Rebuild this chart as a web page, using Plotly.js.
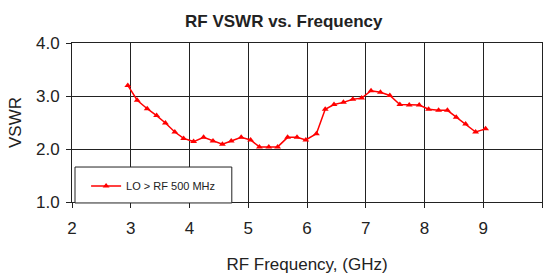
<!DOCTYPE html>
<html>
<head>
<meta charset="utf-8">
<script src="https://cdn.plot.ly/plotly-3.0.1.min.js"></script>
<style>html,body{margin:0;padding:0;background:#fff;}#chart{width:551px;height:277px;}</style>
</head>
<body>
<div id="chart"></div>
<script>
// RF frequency (GHz)
const freqGHz = [2.95, 3.11, 3.28, 3.44, 3.59, 3.75, 3.90, 4.07, 4.24, 4.40,
                 4.56, 4.71, 4.88, 5.04, 5.19, 5.35, 5.50, 5.67, 5.83, 5.98,
                 6.16, 6.31, 6.46, 6.62, 6.78, 6.93, 7.09, 7.25, 7.41, 7.58,
                 7.74, 7.91, 8.07, 8.24, 8.39, 8.54, 8.70, 8.87, 9.04];
// VSWR, LO > RF 500 MHz
const vswr = [3.20, 2.92, 2.76, 2.63, 2.49, 2.32, 2.20, 2.14, 2.22, 2.15,
              2.09, 2.15, 2.22, 2.17, 2.04, 2.04, 2.04, 2.22, 2.22, 2.17,
              2.29, 2.75, 2.84, 2.88, 2.94, 2.96, 3.10, 3.07, 3.01, 2.84,
              2.83, 2.83, 2.75, 2.73, 2.73, 2.60, 2.47, 2.32, 2.38];
const seriesName = 'LO > RF 500 MHz';
const chartTitle = 'RF VSWR vs. Frequency';
const xTitle = 'RF Frequency, (GHz)';
const yTitle = 'VSWR';

const font = 'Liberation Sans, Arial, sans-serif';
const ink = '#222';

Plotly.newPlot('chart', [{
  x: freqGHz, y: vswr, name: seriesName, type: 'scatter', mode: 'lines+markers',
  line: {color: '#ff0000', width: 1.5},
  marker: {symbol: 'triangle-up', size: 6, color: '#ff0000'}
}], {
  width: 551, height: 277,
  margin: {l: 72, r: 9, t: 43, b: 75},
  paper_bgcolor: '#fff', plot_bgcolor: '#fff',
  font: {family: font, color: ink},
  title: {text: '<b>' + chartTitle + '</b>', font: {size: 17, family: font, color: ink},
          xref: 'container', x: 0.515, xanchor: 'center', yref: 'container', y: 0.925, yanchor: 'middle'},
  xaxis: {range: [2, 10], dtick: 1, tick0: 2, showgrid: true, gridcolor: ink, gridwidth: 1,
          showline: true, linecolor: ink, linewidth: 1, mirror: true, zeroline: false,
          ticks: 'outside', ticklen: 5, tickcolor: ink, tickfont: {size: 17, color: ink},
          ticklabelstandoff: 6,
          title: {text: xTitle, font: {size: 17, color: ink}, standoff: 20}, automargin: false},
  yaxis: {range: [1, 4], dtick: 1, tick0: 1, tickformat: '.1f', showgrid: true, gridcolor: ink, gridwidth: 1,
          showline: true, linecolor: ink, linewidth: 1, mirror: true, zeroline: false,
          ticks: 'outside', ticklen: 5, tickcolor: ink, tickfont: {size: 17, color: ink},
          ticklabelstandoff: 3,
          title: {text: yTitle, font: {size: 17, color: ink}, standoff: 10}, automargin: false},
  showlegend: true,
  legend: {x: 0.03, xanchor: 'left', y: 0.10, yanchor: 'middle', bgcolor: 'rgba(0,0,0,0)',
           borderwidth: 0, font: {size: 11, color: ink}},
  shapes: [{type: 'rect', xref: 'paper', yref: 'paper', x0: 0.0064, x1: 0.34, y0: -0.006, y1: 0.22,
            line: {color: ink, width: 1}, fillcolor: '#fff', layer: 'above'}]
}, {displayModeBar: false, staticPlot: true});
</script>
</body>
</html>
